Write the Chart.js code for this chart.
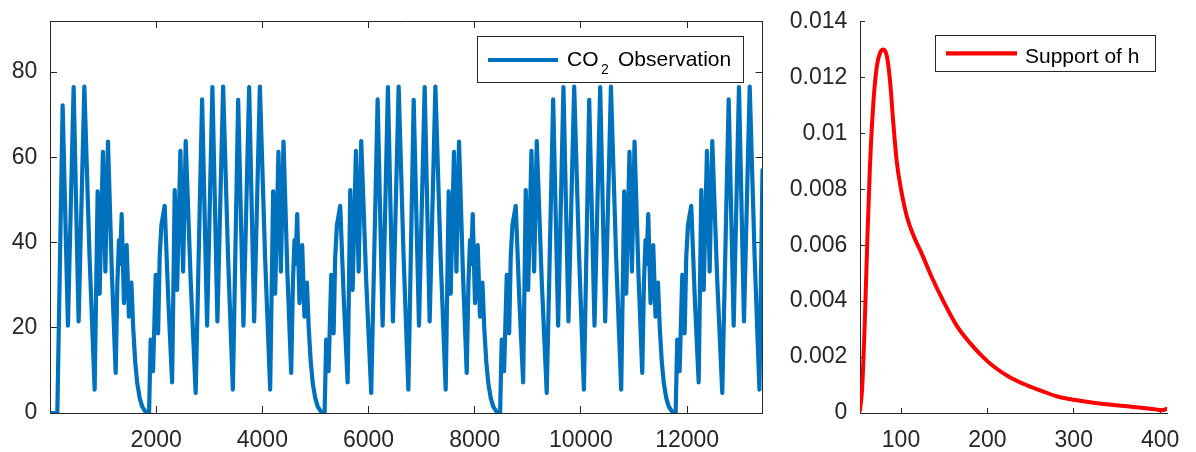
<!DOCTYPE html>
<html><head><meta charset="utf-8">
<script src="https://cdn.jsdelivr.net/npm/chart.js@4.4.1/dist/chart.umd.min.js"></script>
<style>
html,body{margin:0;padding:0;background:#fff;width:1196px;height:452px;overflow:hidden}
#c1{position:absolute;left:0;top:0}
#c2{position:absolute;left:775px;top:0}
</style></head><body>
<canvas id="c1" width="775" height="452"></canvas>
<canvas id="c2" width="421" height="452"></canvas>
<script>
// ---- Left panel: CO2 observation ----
const co2Time = [
0,138,238,338,445,539,647,744,841,897,935,997,1043,1092,1165,1237,1269,1299,1318,1350,1393,1444,1487,1533,1567,1605,1643,1690,1737,1794,
1866,1896,1941,1991,2036,2066,2098,2160,2230,2300,2349,2394,2456,2507,2556,2650,2744,2865,2959,3059,3153,3261,3353,3444,3544,3644,3751,3845,3953,4050,4147,4203,4241,4303,4349,4398,4471,4543,4575,4605,4624,4656,4699,4750,4793,4839,4873,4911,4949,4996,5043,5100,
5172,5202,5247,5297,5342,5372,5404,5466,5536,5606,5655,5700,5762,5813,5862,5956,6050,6171,6265,6365,6459,6567,6659,6750,6850,6950,7057,7151,7259,7356,7453,7509,7547,7609,7655,7704,7777,7849,7881,7911,7930,7962,8005,8056,8099,8145,8179,8217,8255,8302,8349,8406,
8478,8508,8553,8603,8648,8678,8710,8772,8842,8912,8961,9006,9068,9119,9168,9262,9356,9477,9571,9671,9765,9873,9965,10056,10156,10256,10363,10457,10565,10662,10759,10815,10853,10915,10961,11010,11083,11155,11187,11217,11236,11268,11311,11362,11405,11451,11485,11523,11561,11608,11655,11712,
11784,11814,11859,11909,11954,11984,12016,12078,12148,12218,12267,12312,12374,12425,12474,12568,12662,12783,12877,12977,13071,13179,13271,13362,13420
];
const co2Value = [
0,0,72.2,20.5,76.5,21.5,76.6,37,5.5,52,28,61.3,33.2,63.7,33,9.4,30.5,40.6,35,46.7,25.8,39.4,22.6,30.6,20,12,7,3.5,1.5,0.4,
0,17.2,9.8,32.4,18.7,36.7,44.1,48.6,26,7.2,52.3,28.9,61.5,33.2,63.8,31,4.7,73.6,20.5,76.5,21.5,76.6,37,5.5,73.5,20.5,76.5,21.5,76.6,37,5.5,52,28,61.3,33.2,63.7,33,9.4,30.5,40.6,35,46.7,25.8,39.4,22.6,30.6,20,12,7,3.5,1.5,0.4,
0,17.2,9.8,32.4,18.7,36.7,44.1,48.6,26,7.2,52.3,28.9,61.5,33.2,63.8,31,4.7,73.6,20.5,76.5,21.5,76.6,37,5.5,73.5,20.5,76.5,21.5,76.6,37,5.5,52,28,61.3,33.2,63.7,33,9.4,30.5,40.6,35,46.7,25.8,39.4,22.6,30.6,20,12,7,3.5,1.5,0.4,
0,17.2,9.8,32.4,18.7,36.7,44.1,48.6,26,7.2,52.3,28.9,61.5,33.2,63.8,31,4.7,73.6,20.5,76.5,21.5,76.6,37,5.5,73.5,20.5,76.5,21.5,76.6,37,5.5,52,28,61.3,33.2,63.7,33,9.4,30.5,40.6,35,46.7,25.8,39.4,22.6,30.6,20,12,7,3.5,1.5,0.4,
0,17.2,9.8,32.4,18.7,36.7,44.1,48.6,26,7.2,52.3,28.9,61.5,33.2,63.8,31,4.7,73.6,20.5,76.5,21.5,76.6,37,5.5,57
];
const co2XTicks = [2000,4000,6000,8000,10000,12000];
const co2YTicks = [0,20,40,60,80];

// ---- Right panel: support of h ----
const hLag = [52.5,55,58,61,64,68,72,76,80,84,87.5,91,95,100,107,115,124,135,149,165,180,195,210,225,245,262,280,295,315,335,355,375,395,402,408];
const hValue = [0.0001,0.0009,0.0032,0.0062,0.0088,0.0111,0.0124,0.0129,0.0130,0.0127,0.0118,0.0104,0.0090,0.0080,0.0070,0.0063,0.0057,0.0049,0.0040,0.0031,0.0025,0.0020,0.0016,0.0013,0.0010,0.0008,0.0006,0.0005,0.0004,0.00032,0.00026,0.0002,0.00013,0.0001,0.00015];
const hXTicks = [100,200,300,400];
const hYTicks = [0,0.002,0.004,0.006,0.008,0.01,0.012,0.014];

const AX = '#262626';
const FAMILY = "'Liberation Sans', Arial, Helvetica, sans-serif";
const TICKFONT = {family: FAMILY, size: 23};

function fixedTicks(list){ return s => { s.ticks = list.map(v => ({value: v})); }; }
function fitSize(dim, val){
  return s => { s[dim] = val; s.paddingTop = 0; s.paddingBottom = 0; s.paddingLeft = 0; s.paddingRight = 0; };
}
function fmt(v){ return String(Number(v.toFixed(4))); }

function makeAxis(pos, min, max, ticks, size, tl, pad, showLabels){
  const horiz = pos === 'top' || pos === 'bottom';
  return {
    type: 'linear', position: pos, display: true, min: min, max: max,
    afterBuildTicks: fixedTicks(ticks),
    afterFit: fitSize(horiz ? 'height' : 'width', size),
    grid: {drawOnChartArea: false, drawTicks: true, tickLength: tl, color: AX, lineWidth: 1},
    border: {display: true, color: AX, width: 1},
    ticks: {display: showLabels, font: TICKFONT, color: AX, padding: pad, autoSkip: false, maxRotation: 0, minRotation: 0, callback: fmt}
  };
}

const boxLegend = {
  id: 'boxLegend',
  afterDraw(chart, args, o){
    if (!o || !o.box) return;
    const ctx = chart.ctx;
    ctx.save();
    ctx.fillStyle = '#fff';
    ctx.fillRect(o.box[0], o.box[1], o.box[2], o.box[3]);
    ctx.strokeStyle = AX; ctx.lineWidth = 1;
    ctx.strokeRect(o.box[0] + 0.5, o.box[1] + 0.5, o.box[2], o.box[3]);
    ctx.strokeStyle = o.color; ctx.lineWidth = 4.2; ctx.lineCap = 'butt';
    ctx.beginPath(); ctx.moveTo(o.line[0], o.line[2]); ctx.lineTo(o.line[1], o.line[2]); ctx.stroke();
    ctx.fillStyle = '#000'; ctx.textBaseline = 'alphabetic'; ctx.textAlign = 'left';
    for (const p of o.parts){
      ctx.font = p.size + 'px ' + FAMILY;
      ctx.fillText(p.text, p.x, p.y);
    }
    ctx.restore();
  }
};

Chart.defaults.font.family = FAMILY;
Chart.defaults.color = AX;

new Chart(document.getElementById('c1'), {
  type: 'line',
  data: { datasets: [{
    label: 'CO2 Observation',
    data: co2Time.map((t, i) => ({x: t, y: co2Value[i]})),
    borderColor: '#0072BD', borderWidth: 4.2, pointRadius: 0, tension: 0, fill: false,
    borderJoinStyle: 'round', borderCapStyle: 'round'
  }]},
  options: {
    responsive: false, animation: false, events: [],
    layout: {padding: {left: 0, right: 12.5, top: 21, bottom: 0}},
    scales: {
      x: makeAxis('bottom', 0, 13420, co2XTicks, 39, -7, 20.5, true),
      y: makeAxis('left', 0, 92, co2YTicks, 50, -7, 19.7, true),
      xTop: makeAxis('top', 0, 13420, co2XTicks, 0, -7, 0, false),
      yRight: makeAxis('right', 0, 92, co2YTicks, 0, -7, 0, false)
    },
    plugins: {
      legend: {display: false}, tooltip: {enabled: false},
      boxLegend: {
        box: [477, 36, 266, 46], line: [488, 558, 60], color: '#0072BD',
        parts: [{text: 'CO', x: 567, y: 65.5, size: 21}, {text: '2', x: 601, y: 74, size: 14}, {text: 'Observation', x: 618, y: 65.5, size: 21}]
      }
    }
  },
  plugins: [boxLegend]
});

new Chart(document.getElementById('c2'), {
  type: 'line',
  data: { datasets: [{
    label: 'Support of h',
    data: hLag.map((t, i) => ({x: t, y: hValue[i]})),
    borderColor: '#FF0000', borderWidth: 4, pointRadius: 0, cubicInterpolationMode: 'monotone', fill: false,
    borderJoinStyle: 'round', borderCapStyle: 'round'
  }]},
  options: {
    responsive: false, animation: false, events: [],
    layout: {padding: {left: 0, right: 29, top: 21.5, bottom: 0}},
    scales: {
      x: makeAxis('bottom', 52.5, 408, hXTicks, 39, -5, 18.5, true),
      y: makeAxis('left', 0, 0.014, hYTicks, 85, -5, 17.7, true)
    },
    plugins: {
      legend: {display: false}, tooltip: {enabled: false},
      boxLegend: {
        box: [160, 35, 220, 36], line: [171, 242, 53.3], color: '#FF0000',
        parts: [{text: 'Support of h', x: 250, y: 62.5, size: 21}]
      }
    }
  },
  plugins: [boxLegend]
});
</script>
</body></html>
